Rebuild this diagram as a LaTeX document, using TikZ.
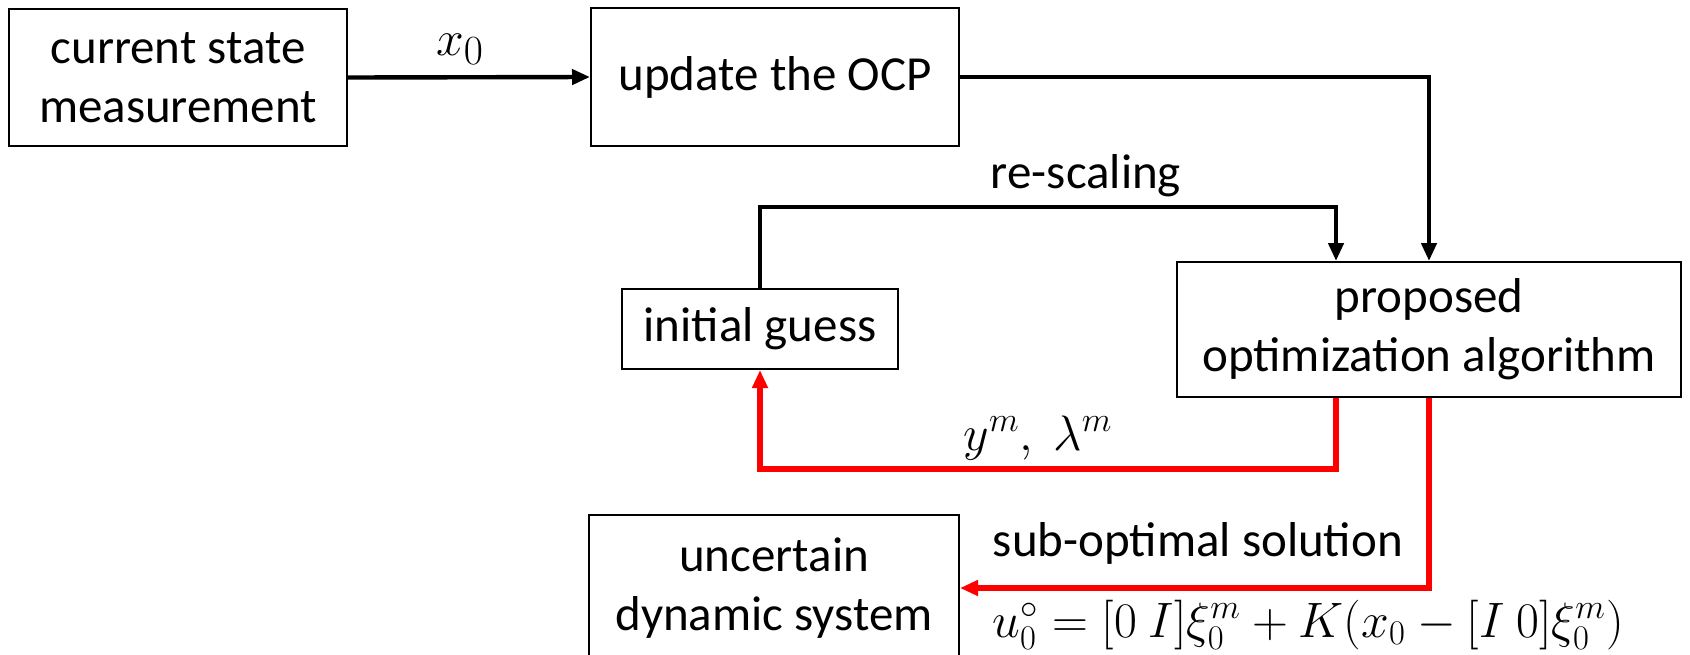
\documentclass[tikz,border=0pt]{standalone}
\usepackage{fontspec}
\setmainfont{Carlito}
\usetikzlibrary{arrows.meta,calc}
\begin{document}
\begin{tikzpicture}[x=0.5pt,y=-0.5pt,
  txt/.style={font=\fontsize{24.5}{29.5}\selectfont},
  box/.style={draw,line width=1pt,inner sep=0pt,align=center,txt},
  lbl/.style={txt,inner sep=0pt},
  flow/.style={line width=2.2pt,-{Triangle[length=9pt,width=7.5pt]}},
  back/.style={flow,red,line width=2.8pt},
  mathlbl/.style={font=\fontsize{26}{30}\selectfont,anchor=base,inner sep=0pt}]
\useasboundingbox (0,0) rectangle (1690,654);
\clip (0,0) rectangle (1690,654);

% blocks
\node[box,minimum width=169pt,minimum height=68.5pt] (meas) at (178,77.5) {current state\\measurement};
\node[box,minimum width=184pt,minimum height=69pt] (ocp) at (775,77) {update the OCP};
\node[box,minimum width=252pt,minimum height=67.5pt] (alg) at (1429,329.5) {proposed\\optimization algorithm};
\node[box,minimum width=138pt,minimum height=40pt] (init) at (760,329) {initial guess};
\node[box,minimum width=185pt,minimum height=73pt] (sys) at (774,588) {uncertain\\dynamic system};

% routing points
\coordinate (rsR) at (1336,207);
\coordinate (rsL) at (init.north |- rsR);
\coordinate (fbR) at (1336,469);
\coordinate (fbL) at (init.south |- fbR);

% measurement to OCP
\draw[flow] (meas.east) -- (ocp.west);
\node[mathlbl,font=\fontsize{29}{33}\selectfont] (xlbl) at (460,55) {$x_0$};

% OCP to algorithm
\draw[flow] (ocp.east) -| (alg.north);

% re-scaling of the initial guess
\draw[flow] (init.north) -- (rsL) -- (rsR) -- (rsR |- alg.north);
\node[lbl] (rslbl) at (1086,176) {re-scaling};

% warm start fed back
\draw[back] (alg.south -| fbR) -- (fbR) -- (fbL) -- (init.south);
\node[mathlbl] (ylbl) at (1038,450) {$y^m,\ \lambda^m$};

% control applied to the plant
\draw[back] (alg.south) |- (sys.east);
\node[lbl] (sollbl) at (1198,543) {sub-optimal solution};
\node[mathlbl] (ulbl) at (1308,637) {$u_0^\circ = [0\ I]\xi_0^m + K(x_0 - [I\ 0]\xi_0^m)$};
\end{tikzpicture}
\end{document}
